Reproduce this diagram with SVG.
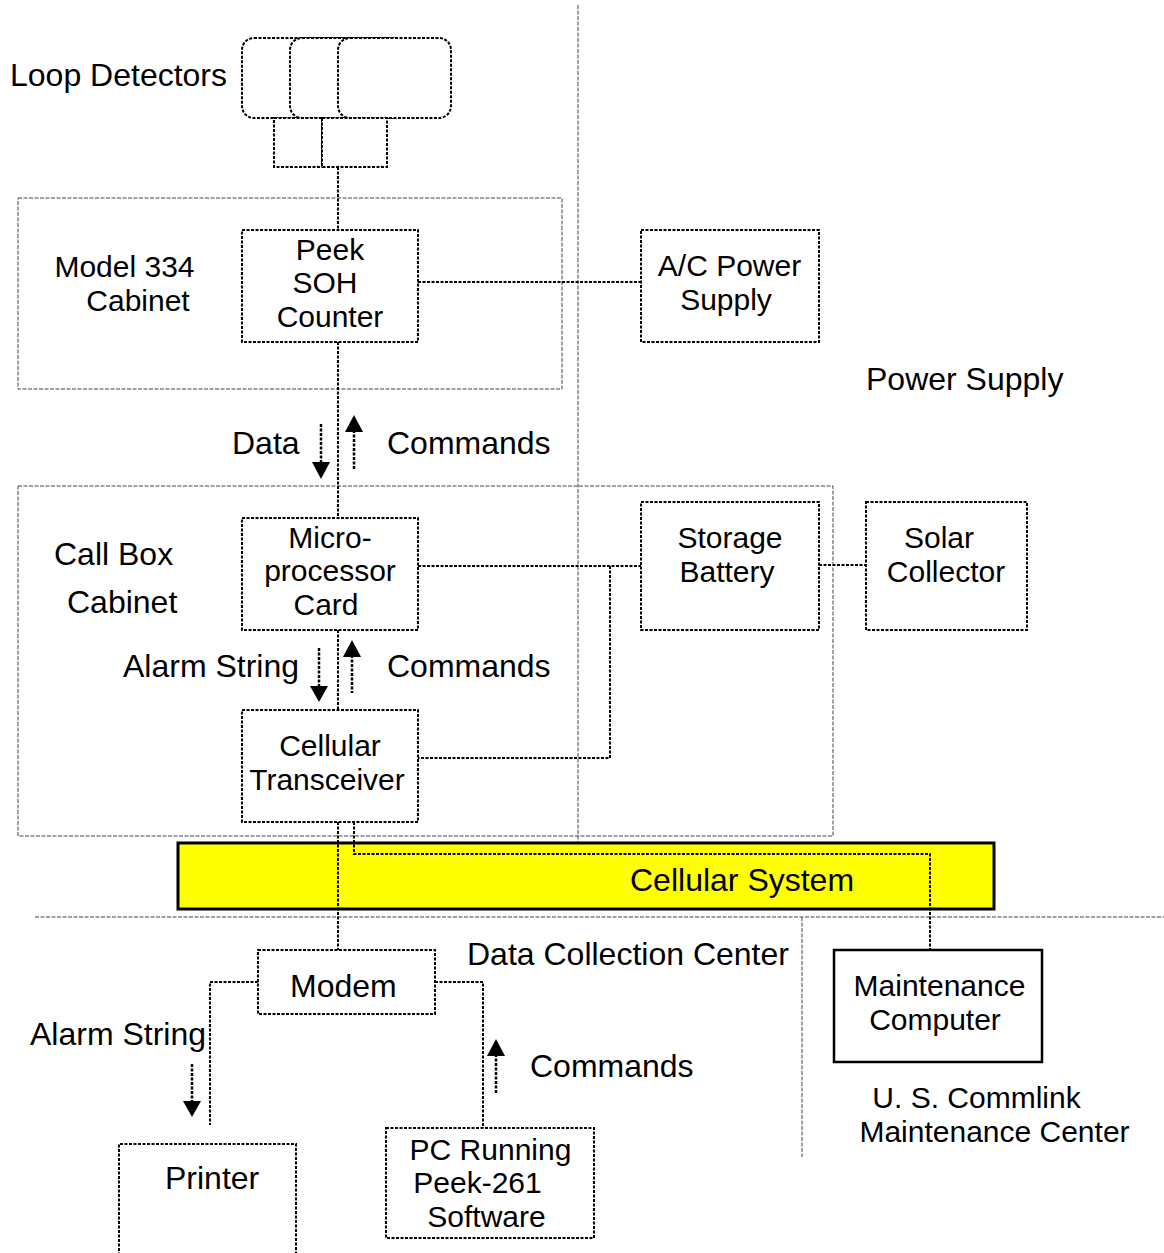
<svg xmlns="http://www.w3.org/2000/svg" width="1164" height="1253" viewBox="0 0 1164 1253">
<style>
text{font-family:"Liberation Sans",Arial,sans-serif;font-size:32px;fill:#000}
.m{text-anchor:middle}
.ml{font-size:30px;text-anchor:middle}
.nd{fill:#fff;stroke:#000;stroke-width:2;stroke-dasharray:3 1.5}
.ln{fill:none;stroke:#000;stroke-width:2;stroke-dasharray:3 1.5}
.gr{fill:none;stroke:#444;stroke-width:1;stroke-dasharray:4 1.5}
.sh{fill:none;stroke:#000;stroke-width:2.5;stroke-dasharray:3 1.5}
.hd{fill:#000}
</style>
<rect width="1164" height="1253" fill="#fff"/>
<g id="regions">
<line class="gr" x1="578" y1="5" x2="578" y2="903"/>
<rect class="gr" x="18" y="198" width="544" height="191"/>
<rect class="gr" x="18" y="486" width="815" height="350"/>
<line class="gr" x1="35" y1="917" x2="1164" y2="917"/>
<line class="gr" x1="802" y1="917" x2="802" y2="1157"/>
</g>
<g id="cellular-system">
<rect x="178" y="843" width="816" height="66" fill="#ff0" stroke="#000" stroke-width="3"/>
</g>
<g id="connectors">
<line class="ln" x1="338" y1="167" x2="338" y2="230"/>
<line class="ln" x1="418" y1="282" x2="641" y2="282"/>
<line class="ln" x1="338" y1="342" x2="338" y2="518"/>
<line class="ln" x1="338" y1="630" x2="338" y2="710"/>
<line class="ln" x1="418" y1="566" x2="641" y2="566"/>
<polyline class="ln" points="610,566 610,758 418,758"/>
<line class="ln" x1="819" y1="565" x2="866" y2="565"/>
<line class="ln" x1="338" y1="822" x2="338" y2="950"/>
<polyline class="ln" points="354,822 354,854 930,854 930,950"/>
<polyline class="ln" points="258,982 210,982 210,1125"/>
<polyline class="ln" points="435,982 483,982 483,1128"/>
</g>
<g id="flow-arrows">
<line class="sh" x1="321" y1="424" x2="321" y2="464"/>
<polygon class="hd" points="312,462 330,462 321,479"/>
<line class="sh" x1="354" y1="430" x2="354" y2="470"/>
<polygon class="hd" points="345,432 363,432 354,415"/>
<line class="sh" x1="319" y1="648" x2="319" y2="688"/>
<polygon class="hd" points="310,686 328,686 319,702"/>
<line class="sh" x1="352" y1="655" x2="352" y2="693"/>
<polygon class="hd" points="343,657 361,657 352,640"/>
<line class="sh" x1="192" y1="1064" x2="192" y2="1103"/>
<polygon class="hd" points="183,1101 201,1101 192,1117"/>
<line class="sh" x1="496" y1="1054" x2="496" y2="1094"/>
<polygon class="hd" points="487,1056 505,1056 496,1039"/>
</g>
<g id="loop-detectors">
<rect class="nd" x="242" y="38" width="113" height="80" rx="12"/>
<rect class="nd" x="290" y="38" width="113" height="80" rx="12"/>
<rect class="nd" x="338" y="38" width="113" height="80" rx="12"/>
<rect class="nd" x="274" y="118" width="48" height="49"/>
<rect class="nd" x="322" y="118" width="65" height="49"/>
<text x="10" y="86">Loop Detectors</text>
</g>
<g id="model-334-label">
<text class="ml"><tspan x="124.5" y="277">Model 334</tspan><tspan x="138" y="311">Cabinet</tspan></text>
</g>
<g id="peek-soh-counter">
<rect class="nd" x="242" y="230" width="176" height="112"/>
<text class="ml"><tspan x="330" y="259.5">Peek</tspan><tspan x="325" y="293">SOH</tspan><tspan x="330" y="326.5">Counter</tspan></text>
</g>
<g id="ac-power-supply">
<rect class="nd" x="641" y="230" width="178" height="112"/>
<text class="ml"><tspan x="729.5" y="276">A/C Power</tspan><tspan x="726" y="310">Supply</tspan></text>
</g>
<g id="power-supply-label"><text x="866" y="390">Power Supply</text></g>
<g id="flow-labels">
<text x="232" y="454">Data</text>
<text x="387" y="454">Commands</text>
<text x="123" y="677">Alarm String</text>
<text x="387" y="677">Commands</text>
<text x="30" y="1045">Alarm String</text>
<text x="530" y="1077">Commands</text>
</g>
<g id="call-box-label">
<text x="54" y="565">Call Box</text>
<text x="67" y="613">Cabinet</text>
</g>
<g id="microprocessor-card">
<rect class="nd" x="242" y="518" width="176" height="112"/>
<text class="ml"><tspan x="330" y="547.5">Micro-</tspan><tspan x="330" y="581">processor</tspan><tspan x="326" y="614.5">Card</tspan></text>
</g>
<g id="storage-battery">
<rect class="nd" x="641" y="502" width="178" height="128"/>
<text class="ml"><tspan x="730" y="548">Storage</tspan><tspan x="727" y="582">Battery</tspan></text>
</g>
<g id="solar-collector">
<rect class="nd" x="866" y="502" width="161" height="128"/>
<text class="ml"><tspan x="939" y="548">Solar</tspan><tspan x="946" y="582">Collector</tspan></text>
</g>
<g id="cellular-transceiver">
<rect class="nd" x="242" y="710" width="176" height="112"/>
<text class="ml"><tspan x="330" y="756">Cellular</tspan><tspan x="327" y="790">Transceiver</tspan></text>
</g>
<g id="cellular-system-label"><text x="630" y="891">Cellular System</text></g>
<g id="data-collection-label"><text x="467" y="965">Data Collection Center</text></g>
<g id="modem">
<rect class="nd" x="258" y="950" width="177" height="64"/>
<text x="290" y="997">Modem</text>
</g>
<g id="maintenance-computer">
<rect x="834" y="950" width="208" height="112" fill="#fff" stroke="#000" stroke-width="2.5"/>
<text class="ml"><tspan x="939.5" y="996">Maintenance</tspan><tspan x="935" y="1030">Computer</tspan></text>
</g>
<g id="commlink-label">
<text class="ml"><tspan x="976.5" y="1108">U. S. Commlink</tspan><tspan x="994.5" y="1142">Maintenance Center</tspan></text>
</g>
<g id="printer">
<path class="ln" d="M119,1260 V1144 H296 V1260"/>
<text x="165" y="1189">Printer</text>
</g>
<g id="pc-running">
<rect class="nd" x="386" y="1128" width="208" height="110"/>
<text class="ml"><tspan x="490.5" y="1159.5">PC Running</tspan><tspan x="477.5" y="1193">Peek-261</tspan><tspan x="486.5" y="1226.5">Software</tspan></text>
</g>
</svg>
